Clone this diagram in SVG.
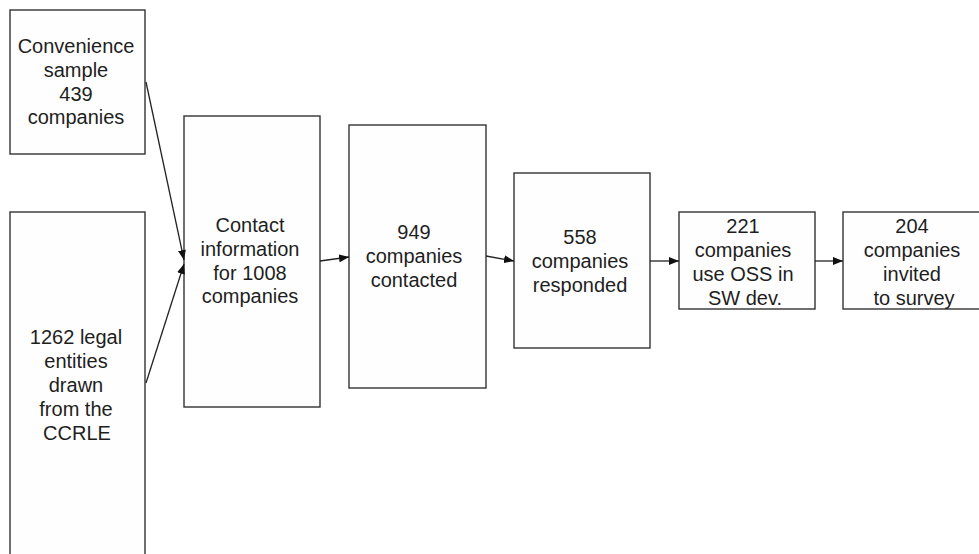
<svg xmlns="http://www.w3.org/2000/svg" width="979" height="554" viewBox="0 0 979 554">
  <style>
    .box { fill: #fefefe; stroke: #333333; stroke-width: 1.4; }
    .lbl { font-family: "Liberation Sans", Arial, sans-serif; font-size: 20px; fill: #1e1e1e; text-anchor: middle; }
    .edge { fill: none; stroke: #222222; stroke-width: 1.3; marker-end: url(#head); }
  </style>
  <defs>
    <marker id="head" viewBox="0 0 10 8" refX="10" refY="4" markerWidth="10" markerHeight="8" markerUnits="userSpaceOnUse" orient="auto">
      <path d="M0,0 L10,4 L0,8 Z" fill="#111111"/>
    </marker>
  </defs>
  <rect width="979" height="554" fill="#ffffff"/>

  <g id="convenience-sample">
    <rect class="box" x="10" y="10" width="135" height="144"/>
    <text class="lbl" x="76" y="53">Convenience</text>
    <text class="lbl" x="76" y="77">sample</text>
    <text class="lbl" x="76" y="101">439</text>
    <text class="lbl" x="76" y="124">companies</text>
  </g>

  <g id="legal-entities">
    <rect class="box" x="10" y="212" width="135" height="360"/>
    <text class="lbl" x="76" y="344">1262 legal</text>
    <text class="lbl" x="76" y="368">entities</text>
    <text class="lbl" x="76" y="392">drawn</text>
    <text class="lbl" x="76" y="416">from the</text>
    <text class="lbl" x="77" y="440">CCRLE</text>
  </g>

  <g id="contact-information">
    <rect class="box" x="184" y="116" width="136" height="291"/>
    <text class="lbl" x="250" y="232">Contact</text>
    <text class="lbl" x="250" y="256">information</text>
    <text class="lbl" x="250" y="280">for 1008</text>
    <text class="lbl" x="250" y="303">companies</text>
  </g>

  <g id="contacted">
    <rect class="box" x="349" y="125" width="137" height="263"/>
    <text class="lbl" x="414" y="239">949</text>
    <text class="lbl" x="414" y="263">companies</text>
    <text class="lbl" x="414" y="287">contacted</text>
  </g>

  <g id="responded">
    <rect class="box" x="514" y="173" width="136" height="175"/>
    <text class="lbl" x="580" y="244">558</text>
    <text class="lbl" x="580" y="268">companies</text>
    <text class="lbl" x="580" y="292">responded</text>
  </g>

  <g id="use-oss">
    <rect class="box" x="679" y="212" width="136" height="97"/>
    <text class="lbl" x="743" y="233">221</text>
    <text class="lbl" x="743" y="257">companies</text>
    <text class="lbl" x="743" y="281">use OSS in</text>
    <text class="lbl" x="745" y="305">SW dev.</text>
  </g>

  <g id="invited">
    <rect class="box" x="843" y="212" width="140" height="97"/>
    <text class="lbl" x="912" y="233">204</text>
    <text class="lbl" x="912" y="257">companies</text>
    <text class="lbl" x="912" y="281">invited</text>
    <text class="lbl" x="914" y="305">to survey</text>
  </g>

  <g id="connectors">
    <line class="edge" x1="146" y1="82" x2="184" y2="260"/>
    <line class="edge" x1="146" y1="383" x2="184" y2="264"/>
    <line class="edge" x1="320" y1="261" x2="349" y2="257"/>
    <line class="edge" x1="486" y1="256" x2="514" y2="261"/>
    <line class="edge" x1="650" y1="261" x2="679" y2="261"/>
    <line class="edge" x1="815" y1="261" x2="843" y2="261"/>
  </g>
</svg>
